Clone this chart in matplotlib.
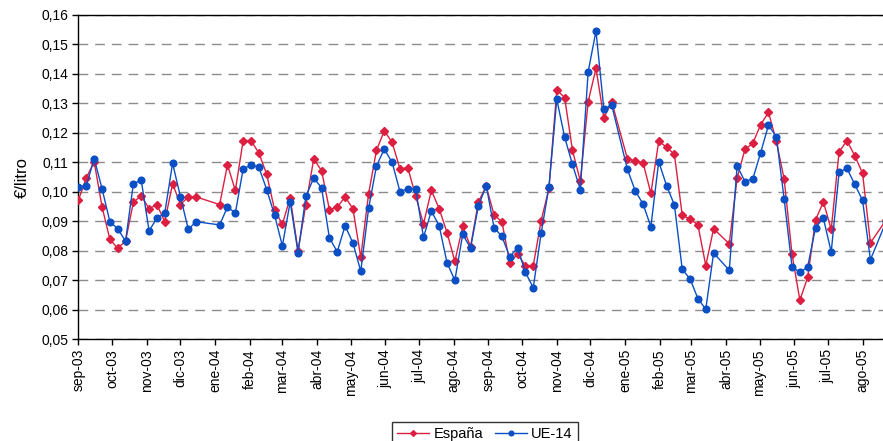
import matplotlib
matplotlib.use('Agg')
import matplotlib.pyplot as plt
import matplotlib.dates as mdates
from matplotlib.ticker import FuncFormatter, MultipleLocator
import numpy as np

# weekly price dates (some holiday weeks are missing)
dates = [
    '2003-09-01', '2003-09-08', '2003-09-15', '2003-09-22', '2003-09-29',
    '2003-10-06', '2003-10-13', '2003-10-20', '2003-10-27', '2003-11-03',
    '2003-11-10', '2003-11-17', '2003-11-24', '2003-12-01', '2003-12-08',
    '2003-12-15', '2004-01-05', '2004-01-12', '2004-01-19', '2004-01-26',
    '2004-02-02', '2004-02-09', '2004-02-16', '2004-02-23', '2004-03-01',
    '2004-03-08', '2004-03-15', '2004-03-22', '2004-03-29', '2004-04-05',
    '2004-04-12', '2004-04-19', '2004-04-26', '2004-05-03', '2004-05-10',
    '2004-05-17', '2004-05-24', '2004-05-31', '2004-06-07', '2004-06-14',
    '2004-06-21', '2004-06-28', '2004-07-05', '2004-07-12', '2004-07-19',
    '2004-07-26', '2004-08-02', '2004-08-09', '2004-08-16', '2004-08-23',
    '2004-08-30', '2004-09-06', '2004-09-13', '2004-09-20', '2004-09-27',
    '2004-10-04', '2004-10-11', '2004-10-18', '2004-10-25', '2004-11-01',
    '2004-11-08', '2004-11-15', '2004-11-22', '2004-11-29', '2004-12-06',
    '2004-12-13', '2004-12-20', '2005-01-03', '2005-01-10', '2005-01-17',
    '2005-01-24', '2005-01-31', '2005-02-07', '2005-02-14', '2005-02-21',
    '2005-02-28', '2005-03-07', '2005-03-14', '2005-03-21', '2005-04-04',
    '2005-04-11', '2005-04-18', '2005-04-25', '2005-05-02', '2005-05-09',
    '2005-05-16', '2005-05-23', '2005-05-30', '2005-06-06', '2005-06-13',
    '2005-06-20', '2005-06-27', '2005-07-04', '2005-07-11', '2005-07-18',
    '2005-07-25', '2005-08-01', '2005-08-08', '2005-08-22',
]

espana = [
    0.0973, 0.1048, 0.1102, 0.0950, 0.0839, 0.0809, 0.0833, 0.0965, 0.0987, 0.0943,
    0.0957, 0.0899, 0.1028, 0.0957, 0.0983, 0.0983, 0.0957, 0.1092, 0.1005, 0.1174,
    0.1174, 0.1132, 0.1060, 0.0940, 0.0890, 0.0980, 0.0801, 0.0957, 0.1112, 0.1072,
    0.0940, 0.0948, 0.0983, 0.0943, 0.0778, 0.0994, 0.1141, 0.1207, 0.1168, 0.1078,
    0.1082, 0.0986, 0.0891, 0.1005, 0.0943, 0.0862, 0.0764, 0.0883, 0.0814, 0.0966,
    0.1019, 0.0922, 0.0899, 0.0759, 0.0789, 0.0750, 0.0750, 0.0902, 0.1012, 0.1346,
    0.1320, 0.1141, 0.1037, 0.1306, 0.1419, 0.1251, 0.1306, 0.1113, 0.1105, 0.1099,
    0.0995, 0.1172, 0.1152, 0.1127, 0.0921, 0.0908, 0.0888, 0.0750, 0.0875, 0.0824,
    0.1048, 0.1144, 0.1165, 0.1228, 0.1270, 0.1172, 0.1043, 0.0789, 0.0633, 0.0710,
    0.0905, 0.0966, 0.0873, 0.1135, 0.1174, 0.1123, 0.1063, 0.0827, 0.0905,
]

ue14 = [
    0.1018, 0.1021, 0.1113, 0.1011, 0.0899, 0.0875, 0.0833, 0.1028, 0.1040, 0.0868,
    0.0911, 0.0928, 0.1097, 0.0984, 0.0873, 0.0899, 0.0888, 0.0949, 0.0928, 0.1078,
    0.1091, 0.1084, 0.1008, 0.0922, 0.0817, 0.0966, 0.0794, 0.0985, 0.1047, 0.1014,
    0.0844, 0.0797, 0.0885, 0.0827, 0.0731, 0.0944, 0.1088, 0.1145, 0.1100, 0.1001,
    0.1010, 0.1010, 0.0846, 0.0935, 0.0885, 0.0760, 0.0700, 0.0856, 0.0810, 0.0952,
    0.1021, 0.0879, 0.0849, 0.0780, 0.0810, 0.0727, 0.0675, 0.0859, 0.1017, 0.1314,
    0.1186, 0.1093, 0.1008, 0.1407, 0.1546, 0.1281, 0.1295, 0.1077, 0.1004, 0.0959,
    0.0882, 0.1103, 0.1021, 0.0956, 0.0737, 0.0705, 0.0638, 0.0602, 0.0793, 0.0734,
    0.1088, 0.1035, 0.1044, 0.1133, 0.1226, 0.1187, 0.0975, 0.0746, 0.0727, 0.0746,
    0.0879, 0.0911, 0.0796, 0.1066, 0.1080, 0.1026, 0.0971, 0.0770, 0.0899,
]

month_names = ['ene', 'feb', 'mar', 'abr', 'may', 'jun',
               'jul', 'ago', 'sep', 'oct', 'nov', 'dic']
tick_months = np.arange('2003-09', '2005-09', dtype='datetime64[M]')

x = np.array(dates, dtype='datetime64[D]')

plt.rcParams['font.family'] = ['Liberation Sans', 'DejaVu Sans']

fig = plt.figure(figsize=(8.83, 4.41), dpi=100)
# axes runs past the right edge of the figure, as in the cropped original
ax = fig.add_axes([0.0889, 0.2306, 0.9273, 0.7354])

red = '#dc1e41'
blue = '#0a4fc4'
ax.plot(x, espana, color=red, marker='D', markersize=4.2, linewidth=1,
        label='España', zorder=3)
ax.plot(x, ue14, color=blue, marker='o', markersize=4.8, linewidth=1,
        label='UE-14', zorder=4)

ax.set_xlim(np.datetime64('2003-09-01'), np.datetime64('2005-09-01'))
ax.set_ylim(0.05, 0.16)
ax.yaxis.set_major_locator(MultipleLocator(0.01))
ax.yaxis.set_major_formatter(
    FuncFormatter(lambda v, p: f'{v:.2f}'.replace('.', ',')))

tick_dates = tick_months.astype('datetime64[D]')
ax.set_xticks(tick_dates)
ax.set_xticklabels(
    [f"{month_names[int(str(m)[5:7]) - 1]}-{str(m)[2:4]}" for m in tick_months],
    rotation=90, fontsize=10)
plt.setp(ax.get_yticklabels(), fontsize=10)
ax.tick_params(axis='both', direction='out', length=4, width=1, color='black')
ax.tick_params(axis='x', pad=3)

ax.grid(axis='y', color='#8c8c8c', linestyle=(0, (7, 5)), linewidth=1)
ax.set_axisbelow(True)
for side in ['left', 'bottom', 'top']:
    ax.spines[side].set_color('black')
    ax.spines[side].set_linewidth(1)
ax.spines['right'].set_visible(False)

ax.set_ylabel('€/litro', fontsize=12, labelpad=8)

fig.legend(loc='upper center', bbox_to_anchor=(0.549, 0.059), ncol=2,
           frameon=True, fancybox=False, edgecolor='black', fontsize=10.5,
           handlelength=2.2, handletextpad=0.3, columnspacing=0.8,
           borderpad=0.35, markerscale=0.7)

plt.savefig('out.png', dpi=100)
plt.close()
print("Saved: out.png")
